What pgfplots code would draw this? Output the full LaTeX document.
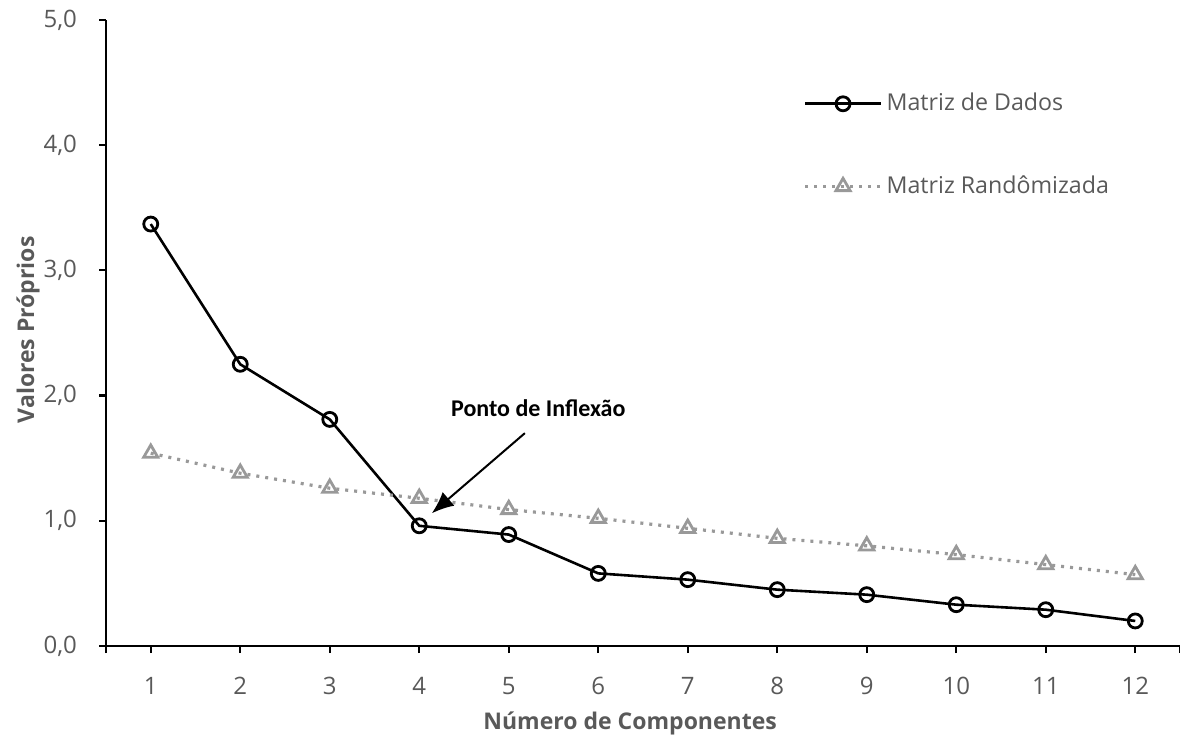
\documentclass[border=0pt]{standalone}
\usepackage{fontspec}
\setmainfont{Open Sans}
\newfontfamily\carlito{Carlito}
\usepackage{pgfplots}
\pgfplotsset{compat=1.18}
\usetikzlibrary{arrows.meta}
\definecolor{tickgray}{HTML}{595959}
\definecolor{rgray}{HTML}{999999}
\begin{document}
\fontsize{11.5}{13.8}\selectfont
\begin{tikzpicture}
\begin{axis}[
  scale only axis, width=537pt, height=313pt,
  xmin=0.5, xmax=12.5, ymin=0, ymax=5,
  axis x line*=bottom, axis y line*=left,
  axis line style={line width=1.1pt, black},
  xtick={1,...,12}, ytick={0,1,...,5},
  extra x ticks={0.5,12.5}, extra x tick labels={},
  extra x tick style={tick style={line width=1.1pt, black}},
  tick style={line width=1.1pt, black},
  tick align=outside, major tick length=3.5pt,
  /pgf/number format/assume math mode=true,
  yticklabel style={/pgf/number format/fixed, /pgf/number format/fixed zerofill, /pgf/number format/precision=1, /pgf/number format/use comma, xshift=-7pt},
  ticklabel style={font=\fontsize{12}{14.4}\selectfont, text=tickgray},
  xticklabel style={yshift=-8pt},
  xlabel={\bfseries Número de Componentes},
  ylabel={\bfseries Valores Próprios},
  label style={font=\fontsize{11.5}{13.8}\selectfont, text=tickgray},
  xlabel style={at={(axis description cs:0.488,0)}, anchor=center, yshift=-38.5pt},
  ylabel style={at={(axis description cs:0,0.505)}, anchor=center, yshift=39pt},
  legend style={draw=none, fill=none, inner sep=0pt, row sep=26.8pt,
    at={(axis description cs:0.649,0.890)}, anchor=north west,
    font=\fontsize{11.6}{14}\selectfont, text=tickgray,
    nodes={inner sep=2pt}},
  legend cell align=left,
  legend image code/.code={
    \draw[mark repeat=2,mark phase=2,#1] plot coordinates {(0pt,0pt) (19pt,0pt) (38pt,0pt)};
  },
  clip=false,
]
\addplot[black, line width=1.3pt, mark=o, mark size=3.5pt, mark options={line width=1.4pt, solid}]
  coordinates {(1,3.37) (2,2.25) (3,1.81) (4,0.96) (5,0.89) (6,0.58) (7,0.53) (8,0.45) (9,0.41) (10,0.33) (11,0.29) (12,0.20)};
\addlegendentry{Matriz de Dados}
\addplot[rgray, line width=1.6pt, dash pattern=on 1.5pt off 3pt, mark=triangle, mark size=4.1pt, mark options={line width=1.4pt, solid}]
  coordinates {(1,1.54) (2,1.38) (3,1.26) (4,1.18) (5,1.09) (6,1.02) (7,0.94) (8,0.86) (9,0.80) (10,0.73) (11,0.65) (12,0.57)};
\addlegendentry{Matriz Randômizada}
\node[font={\carlito\bfseries\fontsize{12}{14.4}\selectfont}, text=black] at (axis cs:5.33,1.90) {Ponto de Inflexão};
\draw[black, line width=1pt, -{Latex[length=11pt,width=9pt]}] (axis cs:5.18,1.70) -- (axis cs:4.14,1.06);
\coordinate (sw) at (rel axis cs:0,0);
\coordinate (ne) at (rel axis cs:1,1);
\end{axis}
\pgfresetboundingbox
\path ([xshift=-53pt,yshift=-45.2pt]sw) rectangle ([yshift=10pt]ne);
\end{tikzpicture}
\end{document}
